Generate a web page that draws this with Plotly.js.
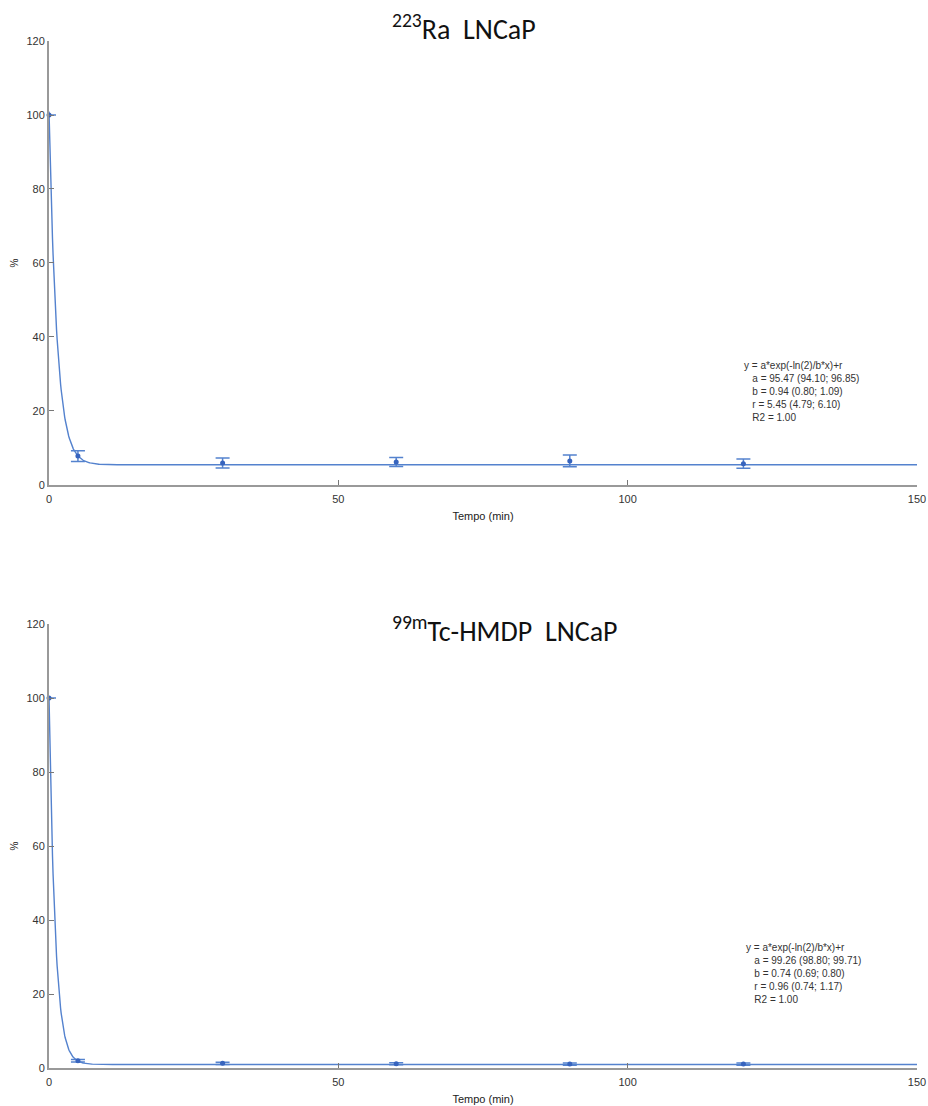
<!DOCTYPE html>
<html>
<head>
<meta charset="utf-8">
<script src="https://cdn.plot.ly/plotly-3.0.1.min.js"></script>
<style>html,body{margin:0;padding:0;background:#fff}#chart{width:928px;height:1106px}</style>
</head>
<body>
<div id="chart"></div>
<script>
// ---- data ----
const timeMin = [0, 5, 30, 60, 90, 120];
const raValues = [100, 7.8, 5.95, 6.2, 6.5, 5.75];
const raErrors = [0, 1.45, 1.35, 1.2, 1.6, 1.25];
const tcValues = [100, 1.95, 1.27, 1.15, 1.05, 1.05];
const tcErrors = [0, 0.35, 0.3, 0.3, 0.3, 0.3];

// fit parameters as printed on the chart: y = a*exp(-ln(2)/b*x)+r
const raFit = {a: 95.47, b: 0.94, r: 5.45};
const tcFit = {a: 99.26, b: 0.74, r: 0.96};
const raFitText = 'y = a*exp(-ln(2)/b*x)+r<br>&nbsp;&nbsp;&nbsp;a = 95.47 (94.10; 96.85)<br>&nbsp;&nbsp;&nbsp;b = 0.94 (0.80; 1.09)<br>&nbsp;&nbsp;&nbsp;r = 5.45 (4.79; 6.10)<br>&nbsp;&nbsp;&nbsp;R2 = 1.00';
const tcFitText = 'y = a*exp(-ln(2)/b*x)+r<br>&nbsp;&nbsp;&nbsp;a = 99.26 (98.80; 99.71)<br>&nbsp;&nbsp;&nbsp;b = 0.74 (0.69; 0.80)<br>&nbsp;&nbsp;&nbsp;r = 0.96 (0.74; 1.17)<br>&nbsp;&nbsp;&nbsp;R2 = 1.00';
const titleRa = '<sup>223</sup>Ra  LNCaP';
const titleTc = '<sup>99m</sup>Tc-HMDP  LNCaP';
const xTicks = [0, 50, 100, 150];
const yTicks = [0, 20, 40, 60, 80, 100, 120];

// ---- fit curve evaluation ----
function fitCurve(p) {
  const xs = [], ys = [];
  for (let x = 0; x <= 150.0001; x += (x < 20 ? 0.1 : 1)) {
    xs.push(x);
    ys.push(p.a * Math.exp(-Math.LN2 / p.b * x) + p.r);
  }
  return {xs, ys};
}
const raCurve = fitCurve(raFit);
const tcCurve = fitCurve(tcFit);

const blue = 'rgb(84,130,206)';
const markBlue = 'rgb(55,100,190)';

function pts(vals, errs, xa, ya) {
  return {
    x: timeMin, y: vals, xaxis: xa, yaxis: ya, type: 'scatter', mode: 'markers',
    marker: {color: markBlue, size: 5},
    error_y: {type: 'data', array: errs, visible: true, color: blue, thickness: 1.5, width: 7},
    hoverinfo: 'x+y', showlegend: false, cliponaxis: false
  };
}
function line(c, xa, ya) {
  return {x: c.xs, y: c.ys, xaxis: xa, yaxis: ya, type: 'scatter', mode: 'lines',
    line: {color: blue, width: 1.4}, showlegend: false, hoverinfo: 'skip', cliponaxis: false};
}

const data = [
  line(raCurve, 'x', 'y'), pts(raValues, raErrors, 'x', 'y'),
  line(tcCurve, 'x2', 'y2'), pts(tcValues, tcErrors, 'x2', 'y2')
];

const axisFont = {family: 'Arial, Liberation Sans, sans-serif', size: 11, color: '#333'};
function xAxis(anchor) {
  return {
    anchor: anchor, domain: [0, 1], range: [0, 150], tickvals: xTicks, ticktext: xTicks.map(String),
    ticks: 'inside', ticklen: 5, tickcolor: '#777', tickwidth: 1, ticklabelstandoff: 3,
    showline: true, linecolor: '#999', linewidth: 2, showgrid: false, zeroline: false,
    tickfont: axisFont, fixedrange: true,
    title: {text: 'Tempo (min)', font: {family: 'Arial, Liberation Sans, sans-serif', size: 11, color: '#222'}, standoff: 8}
  };
}
function yAxis(anchor, dom) {
  return {
    anchor: anchor, domain: dom, range: [0, 120], tickvals: yTicks, ticktext: yTicks.map(String),
    ticks: 'inside', ticklen: 5, tickcolor: '#777', tickwidth: 1,
    showline: true, linecolor: '#999', linewidth: 2, showgrid: false, zeroline: false,
    tickfont: axisFont, fixedrange: true,
    title: {text: '%', font: {family: 'Arial, Liberation Sans, sans-serif', size: 10, color: '#222'}, standoff: 6}
  };
}

const layout = {
  width: 928, height: 1106,
  margin: {l: 49, r: 11, t: 41, b: 38},
  paper_bgcolor: '#fff', plot_bgcolor: '#fff',
  xaxis: xAxis('y'),
  yaxis: yAxis('x', [0.5677, 1]),
  xaxis2: xAxis('y2'),
  yaxis2: yAxis('x2', [0, 0.4323]),
  annotations: [
    {text: titleRa, xref: 'paper', yref: 'paper', x: 0.393, y: 1.0136, xanchor: 'left', yanchor: 'middle',
     showarrow: false, font: {family: 'Carlito, Lato, Open Sans, sans-serif', size: 28, color: '#111'}},
    {text: titleTc, xref: 'paper', yref: 'paper', x: 0.393, y: 0.4265, xanchor: 'left', yanchor: 'middle',
     showarrow: false, font: {family: 'Carlito, Lato, Open Sans, sans-serif', size: 28, color: '#111'}},
    {text: raFitText, xref: 'x', yref: 'y', x: 119.8, y: 34.2, xanchor: 'left', yanchor: 'top', align: 'left',
     showarrow: false, font: {family: 'Arial, Liberation Sans, sans-serif', size: 10, color: '#333'}},
    {text: tcFitText, xref: 'x2', yref: 'y2', x: 120.1, y: 34.5, xanchor: 'left', yanchor: 'top', align: 'left',
     showarrow: false, font: {family: 'Arial, Liberation Sans, sans-serif', size: 10, color: '#333'}}
  ]
};

Plotly.newPlot('chart', data, layout, {displayModeBar: false, staticPlot: true});
</script>
</body>
</html>
